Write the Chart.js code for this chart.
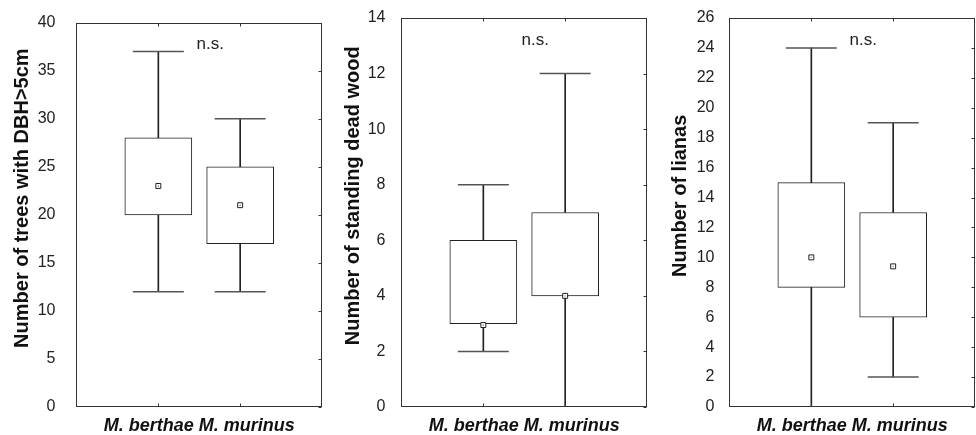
<!DOCTYPE html>
<html>
<head>
<meta charset="utf-8">
<script src="https://cdn.jsdelivr.net/npm/chart.js@4.4.1/dist/chart.umd.min.js"></script>
<style>
html, body { margin: 0; padding: 0; background: #fff; }
#wrap { position: relative; width: 976px; height: 435px; overflow: hidden; }
#wrap canvas { position: absolute; top: 0; }
</style>
</head>
<body>
<div id="wrap">
  <canvas id="c1" width="326" height="435" style="left:0"></canvas>
  <canvas id="c2" width="325" height="435" style="left:326px"></canvas>
  <canvas id="c3" width="325" height="435" style="left:651px"></canvas>
</div>
<script>
// groupes comparés
const GROUPS = ["M. berthae", "M. murinus"];

// arbres DBH>5cm
const treesMin = [12, 12];
const treesQ1 = [20, 17];
const treesMid = [23, 21];
const treesQ3 = [28, 25];
const treesMax = [37, 30];
const treesTicks = [0, 5, 10, 15, 20, 25, 30, 35, 40];

// bois mort sur pied
const deadMin = [2, 0];
const deadQ1 = [3, 4];
const deadMid = [2.95, 4];
const deadQ3 = [6, 7];
const deadMax = [8, 12];
const deadTicks = [0, 2, 4, 6, 8, 10, 12, 14];

// lianes
const lianaMin = [0, 2];
const lianaQ1 = [8, 6];
const lianaMid = [10, 9.4];
const lianaQ3 = [15, 13];
const lianaMax = [24, 19];
const lianaTicks = [0, 2, 4, 6, 8, 10, 12, 14, 16, 18, 20, 22, 24, 26];

const FONT = '"Liberation Sans", Arial, Helvetica, sans-serif';
const INK = '#222';

// null aux deux bouts : les groupes tombent a 1/3 et 2/3 de l'axe
function pad(arr) { return [null, ...arr, null]; }

function boxDatasets(mins, q1, mid, q3, maxs) {
    return [
        { type: 'line', data: pad(mid), showLine: false, pointStyle: 'rect', pointRadius: 1,
          pointBackgroundColor: '#999', pointBorderWidth: 0, order: 0 },
        { type: 'line', data: pad(mid), showLine: false, pointStyle: 'rect', pointRadius: 3.5,
          pointBackgroundColor: '#fff', pointBorderColor: INK, pointBorderWidth: 1, order: 1 },
        { type: 'line', data: pad(mins), showLine: false, pointStyle: 'line', pointRadius: 25.5,
          pointBorderColor: '#555', pointBorderWidth: 1.5, order: 2 },
        { type: 'line', data: pad(maxs), showLine: false, pointStyle: 'line', pointRadius: 25.5,
          pointBorderColor: '#555', pointBorderWidth: 1.5, order: 2 },
        { type: 'bar', data: pad(q1.map((v, i) => [v, q3[i]])), barThickness: 67, grouped: false,
          backgroundColor: '#fff', borderColor: INK, borderWidth: 1, borderSkipped: false, order: 3 },
        { type: 'bar', data: pad(mins.map((v, i) => [v, q1[i]])), barThickness: 1, grouped: false,
          backgroundColor: INK, borderWidth: 0, order: 4 },
        { type: 'bar', data: pad(q3.map((v, i) => [v, maxs[i]])), barThickness: 1, grouped: false,
          backgroundColor: INK, borderWidth: 0, order: 4 }
    ];
}

// cadre, petits tirets vers l'interieur et "n.s."
const framePlugin = {
    id: 'frame',
    afterDatasetsDraw(chart) {
        const { ctx, chartArea: a, scales } = chart;
        const l = Math.floor(a.left) + 0.5;
        const r = Math.round(a.right) - 0.5;
        const t = Math.round(a.top) + 0.5;
        const b = Math.round(a.bottom) - 0.5;
        ctx.save();
        ctx.strokeStyle = '#333';
        ctx.lineWidth = 1;
        ctx.strokeRect(l, t, r - l, b - t);
        ctx.beginPath();
        scales.y.ticks.forEach(tk => {
            const y = Math.round(scales.y.getPixelForValue(tk.value)) + 0.5;
            ctx.moveTo(r, y);
            ctx.lineTo(r - 3, y);
        });
        GROUPS.forEach((g, i) => {
            const x = Math.floor(scales.x.getPixelForValue(i + 1)) + 0.5;
            ctx.moveTo(x, t);
            ctx.lineTo(x, t + 3);
            ctx.moveTo(x, b);
            ctx.lineTo(x, b - 3);
        });
        ctx.stroke();
        const mid = (scales.x.getPixelForValue(1) + scales.x.getPixelForValue(2)) / 2;
        ctx.fillStyle = INK;
        ctx.font = '17px ' + FONT;
        ctx.textAlign = 'center';
        ctx.textBaseline = 'middle';
        ctx.fillText('n.s.', mid + 11, a.top + 22);
        ctx.restore();
    }
};

function makePanel(id, title, ticks, sets, axisWidth, tickPad, titlePad, rightPad) {
    const step = ticks[1] - ticks[0];
    return new Chart(document.getElementById(id), {
        data: { labels: ['', ...GROUPS, ''], datasets: sets },
        options: {
            responsive: false,
            animation: false,
            layout: { autoPadding: false, padding: { top: 18, left: 0, right: rightPad, bottom: 0 } },
            plugins: { legend: { display: false }, tooltip: { enabled: false } },
            scales: {
                x: {
                    type: 'category',
                    offset: false,
                    grid: { display: false },
                    border: { display: false },
                    ticks: { display: false },
                    title: {
                        display: true,
                        text: GROUPS.join(' '),
                        color: '#111',
                        font: { family: FONT, size: 18, weight: 'bold', style: 'italic', lineHeight: 1 },
                        padding: { top: 0, bottom: 0 }
                    },
                    afterFit: s => { s.height = 28; }
                },
                y: {
                    min: ticks[0],
                    max: ticks[ticks.length - 1],
                    grid: { display: false },
                    border: { display: false },
                    ticks: { stepSize: step, color: INK, padding: tickPad, font: { family: FONT, size: 16 } },
                    title: {
                        display: true,
                        text: '      ' + title,
                        color: '#111',
                        font: { family: FONT, size: 20, weight: 'bold' },
                        padding: { top: titlePad, bottom: 0 }
                    },
                    afterFit: s => { s.width = axisWidth; }
                }
            }
        },
        plugins: [framePlugin]
    });
}

makePanel('c1', 'Number of trees with DBH>5cm', treesTicks,
    boxDatasets(treesMin, treesQ1, treesMid, treesQ3, treesMax), 76.5, 13, 10, 4);
makePanel('c2', 'Number of standing dead wood', deadTicks,
    boxDatasets(deadMin, deadQ1, deadMid, deadQ3, deadMax), 75.5, 8, 15, 4);
makePanel('c3', 'Number of lianas', lianaTicks,
    boxDatasets(lianaMin, lianaQ1, lianaMid, lianaQ3, lianaMax), 78.5, 7, 17, 1);
</script>
</body>
</html>
